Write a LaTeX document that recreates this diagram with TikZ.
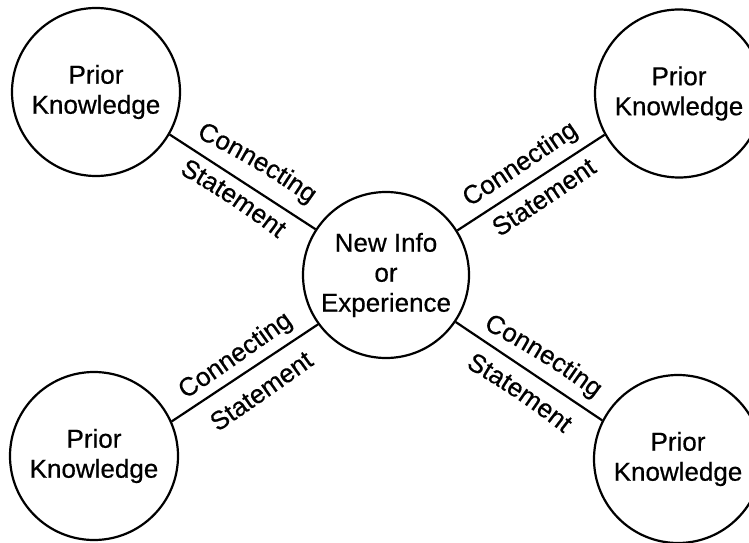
\documentclass[tikz,border=0pt]{standalone}
\usepackage{fontspec}
\setmainfont{Liberation Sans}[FakeBold=0.5]
\usetikzlibrary{decorations.text,calc}
\newcommand{\lblfont}{\fontsize{26}{30}\selectfont}
% clockwise-turning label: text, x, y (middle of baseline), angle, radius
\newcommand{\cwlbl}[5]{%
  \pgfmathsetmacro{\lblD}{130/#5*180/pi}%
  \pgfmathsetmacro{\lblN}{#4-90}%
  \pgfmathsetmacro{\lblS}{#4+90+\lblD}%
  \pgfmathsetmacro{\lblE}{#4+90-\lblD}%
  \path[lbl={#1}] ($(#2,#3)+(\lblN:#5)+(\lblS:#5)$) arc[start angle=\lblS, end angle=\lblE, radius=#5];%
}
% counter-clockwise-turning label
\newcommand{\ccwlbl}[5]{%
  \pgfmathsetmacro{\lblD}{130/#5*180/pi}%
  \pgfmathsetmacro{\lblN}{#4+90}%
  \pgfmathsetmacro{\lblS}{#4-90-\lblD}%
  \pgfmathsetmacro{\lblE}{#4-90+\lblD}%
  \path[lbl={#1}] ($(#2,#3)+(\lblN:#5)+(\lblS:#5)$) arc[start angle=\lblS, end angle=\lblE, radius=#5];%
}
\begin{document}
\begin{tikzpicture}[x=1pt,y=1pt,
  bubble/.style={circle, draw, line width=2.2pt, inner sep=0pt, minimum size=168pt, align=center, font=\fontsize{26}{30}\selectfont},
  link/.style={line width=2.2pt},
  lbl/.style={decorate, decoration={text along path, text align=center, text={|\lblfont|#1}}}
]
\useasboundingbox (0,0) rectangle (749,542);
\fill[white] (0,0) rectangle (749,542);

\node[bubble] (tl) at (96,450) {Prior\\Knowledge};
\node[bubble] (tr) at (679,448.5) {Prior\\Knowledge};
\node[bubble] (bl) at (94,86) {Prior\\Knowledge};
\node[bubble] (br) at (678,83) {Prior\\Knowledge};
\node[bubble, minimum size=166pt] (c) at (386,267) {New Info\\or\\Experience};

\draw[link] (tl.-30.2) -- (c.147);
\draw[link] (c.32) -- (tr.209.3);
\draw[link] (bl.24.7) -- (c.216.6);
\draw[link] (c.-34.6) -- (br.153.1);

\cwlbl{Connecting}{254.3}{374}{-30.5}{750}
\cwlbl{Statement}{229.7}{338}{-33.5}{750}
\ccwlbl{Connecting}{524.6}{371.3}{33.8}{4000}
\ccwlbl{Statement}{548.8}{337.4}{33.8}{4000}
\ccwlbl{Connecting}{240}{179.9}{35}{4000}
\ccwlbl{Statement}{266.5}{143.4}{35}{4000}
\cwlbl{Connecting}{540.4}{181.2}{-32}{750}
\cwlbl{Statement}{515.8}{143.7}{-34.1}{750}
\end{tikzpicture}
\end{document}
